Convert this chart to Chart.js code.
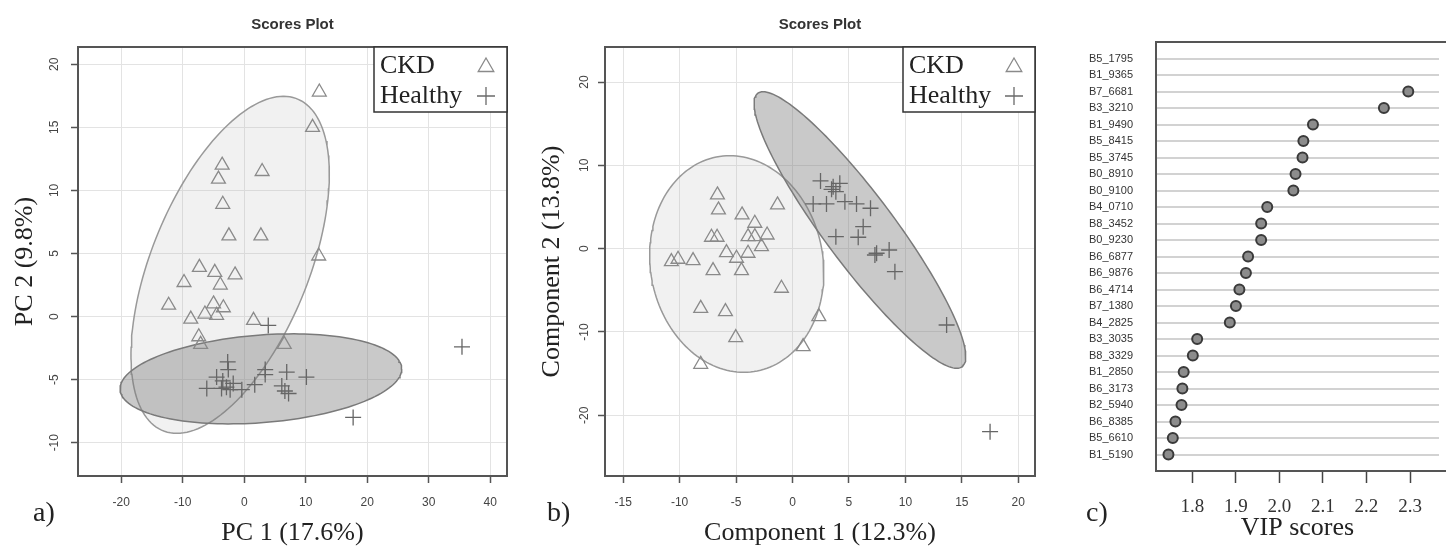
<!DOCTYPE html>
<html><head><meta charset="utf-8">
<script src="https://cdn.jsdelivr.net/npm/chart.js@4.4.1/dist/chart.umd.min.js"></script>
<style>
html,body{margin:0;padding:0;background:#fff;}
#wrap{position:relative;width:1446px;height:546px;overflow:hidden;background:#fff;}
canvas{position:absolute;top:0;}
.tag{position:absolute;font-family:"Liberation Serif","Times New Roman",serif;font-size:28px;color:#222;line-height:1;}
</style></head><body>
<div id="wrap">
<canvas id="ca" width="530" height="546" style="left:0px"></canvas>
<canvas id="cb" width="530" height="546" style="left:530px"></canvas>
<canvas id="cc" width="386" height="546" style="left:1060px"></canvas>
<div class="tag" style="left:33px;top:498px">a)</div>
<div class="tag" style="left:547px;top:498px">b)</div>
<div class="tag" style="left:1086px;top:498px">c)</div>
</div>
<script>
// ---------- data ----------
const groups = ['CKD', 'Healthy'];

// a) PCA scores
const pcaCkdX = [12.2, 11.1, -3.6, -4.2, 2.9, -3.5, -2.5, 2.7, 12.1, -7.3, -4.8, -1.5, -9.8, -3.9, -12.3, -5.0, -3.4, -8.7, -6.4, -4.5, 1.5, -7.4, -7.1, 6.5];
const pcaCkdY = [17.8, 15.0, 12.0, 10.9, 11.5, 8.9, 6.4, 6.4, 4.8, 3.9, 3.5, 3.3, 2.7, 2.5, 0.9, 1.0, 0.7, -0.2, 0.2, 0.1, -0.3, -1.6, -2.2, -2.2];
const pcaHealthyX = [3.9, 35.4, -2.7, -2.6, 3.4, 3.4, 6.9, 10.1, -4.5, -3.5, -1.8, -6.1, -3.7, -2.3, -0.4, 1.7, 6.1, 6.6, 7.2, 17.7, -2.9];
const pcaHealthyY = [-0.7, -2.4, -3.6, -4.2, -4.2, -4.6, -4.4, -4.8, -4.8, -5.1, -5.3, -5.7, -5.7, -5.8, -5.8, -5.4, -5.5, -5.9, -6.1, -8.0, -5.6];
// ellipse: [centerX, centerY, u.x, u.y, v.x, v.y] (conjugate semi-diameters)
const pcaCkdEllipse = [-2.3, 4.1, 8.67, 13.36, 13.6, 0];
const pcaHealthyEllipse = [2.7, -4.94, 22.9, 0.79, 0, 3.48];
const pcaXTicks = [-20, -10, 0, 10, 20, 30, 40];
const pcaYTicks = [-10, -5, 0, 5, 10, 15, 20];

// b) PLS-DA scores
const plsCkdX = [-6.65, -6.56, -1.33, -4.47, -3.34, -7.18, -6.68, -3.94, -3.34, -2.25, -2.75, -5.85, -3.94, -4.96, -10.73, -10.14, -8.81, -7.04, -4.52, -0.98, -8.13, -5.94, 2.33, -5.03, 0.94, -8.13];
const plsCkdY = [6.45, 4.65, 5.25, 4.05, 3.05, 1.37, 1.37, 1.44, 1.44, 1.64, 0.24, -0.48, -0.55, -1.15, -1.56, -1.27, -1.44, -2.64, -2.64, -4.75, -7.16, -7.56, -8.16, -10.68, -11.76, -13.88];
const plsHealthyX = [2.48, 3.6, 4.19, 3.84, 3.46, 1.83, 3.01, 4.64, 5.67, 6.91, 6.26, 5.82, 3.84, 7.45, 8.56, 7.3, 9.07, 13.65, 17.5];
const plsHealthyY = [8.13, 7.44, 7.85, 6.84, 7.13, 5.37, 5.37, 5.64, 5.37, 4.85, 2.64, 1.37, 1.44, -0.55, -0.16, -0.76, -2.76, -9.16, -21.97];
const plsCkdEllipse = [-4.94, -1.84, -0.62, 13.0, 7.69, 0];
const plsHealthyEllipse = [5.97, 2.24, -8.57, 16.6, 3.8, 0];
const plsXTicks = [-15, -10, -5, 0, 5, 10, 15, 20];
const plsYTicks = [-20, -10, 0, 10, 20];

// c) VIP scores
const vipFeatures = ['B5_1795','B1_9365','B7_6681','B3_3210','B1_9490','B5_8415','B5_3745','B0_8910','B0_9100','B4_0710','B8_3452','B0_9230','B6_6877','B6_9876','B6_4714','B7_1380','B4_2825','B3_3035','B8_3329','B1_2850','B6_3173','B2_5940','B6_8385','B5_6610','B1_5190'];
const vipScores = [2.55, 2.42, 2.296, 2.240, 2.077, 2.055, 2.053, 2.037, 2.032, 1.972, 1.958, 1.958, 1.928, 1.923, 1.908, 1.900, 1.886, 1.811, 1.801, 1.780, 1.777, 1.775, 1.761, 1.755, 1.745];
const vipTicks = [1.8, 1.9, 2.0, 2.1, 2.2, 2.3];

// ---------- helpers ----------
const SERIF = '"Liberation Serif", "Times New Roman", serif';
const SANS = '"Liberation Sans", Arial, sans-serif';
Chart.defaults.font.family = SANS;

const zip = (xs, ys) => xs.map((x, i) => ({x: x, y: ys[i]}));
function ellipsePath(p, n) {
  const pts = [];
  for (let i = 0; i <= n; i++) {
    const t = 2 * Math.PI * i / n;
    pts.push({x: p[0] + p[2] * Math.cos(t) + p[4] * Math.sin(t), y: p[1] + p[3] * Math.cos(t) + p[5] * Math.sin(t)});
  }
  return pts;
}
const fixedTicks = arr => scale => { scale.ticks = arr.map(v => ({value: v})); };

const framePlugin = {
  id: 'frame',
  afterDatasetsDraw(chart, args, o) {
    const {ctx, chartArea: a} = chart;
    ctx.save();
    ctx.strokeStyle = o.color || '#555';
    ctx.lineWidth = o.width || 2;
    ctx.beginPath();
    if (o.open) {
      ctx.moveTo(a.right + 10, a.top); ctx.lineTo(a.left, a.top);
      ctx.lineTo(a.left, a.bottom); ctx.lineTo(a.right + 10, a.bottom);
    } else {
      ctx.rect(a.left, a.top, a.right - a.left, a.bottom - a.top);
    }
    ctx.stroke();
    ctx.restore();
  }
};

const boxLegendPlugin = {
  id: 'boxLegend',
  afterDraw(chart, args, o) {
    if (!o || !o.width) return;
    const {ctx, chartArea: a} = chart;
    const x1 = a.right - o.width, y1 = a.top;
    ctx.save();
    ctx.fillStyle = '#fff';
    ctx.fillRect(x1, y1, o.width, o.height);
    ctx.strokeStyle = '#333';
    ctx.lineWidth = 1.5;
    ctx.strokeRect(x1, y1, o.width, o.height);
    ctx.font = '26px ' + SERIF;
    ctx.fillStyle = '#222';
    ctx.textBaseline = 'alphabetic';
    ctx.textAlign = 'left';
    const rows = [y1 + 26, y1 + 56];
    groups.forEach((g, i) => {
      ctx.fillText(g, x1 + 6, rows[i]);
      const cx = a.right - 21, cy = y1 + 20 + i * 29;
      ctx.beginPath();
      if (i === 0) {
        const r = 9;
        ctx.moveTo(cx, cy - r);
        ctx.lineTo(cx + r * 0.866, cy + r * 0.5);
        ctx.lineTo(cx - r * 0.866, cy + r * 0.5);
        ctx.closePath();
        ctx.strokeStyle = '#8a8a8a';
      } else {
        const r = 9;
        ctx.moveTo(cx - r, cy); ctx.lineTo(cx + r, cy);
        ctx.moveTo(cx, cy - r); ctx.lineTo(cx, cy + r);
        ctx.strokeStyle = '#6a6a6a';
      }
      ctx.lineWidth = 1.3;
      ctx.stroke();
    });
    ctx.restore();
  }
};

function scoresChart(id, cfg) {
  const tickFont = {family: SANS, size: 12};
  return new Chart(document.getElementById(id), {
    type: 'scatter',
    data: {
      datasets: [
        {label: groups[0], data: zip(cfg.ckdX, cfg.ckdY), pointStyle: 'triangle', pointRadius: 8,
         borderColor: '#8a8a8a', backgroundColor: 'rgba(0,0,0,0)', borderWidth: 1.3, order: 1},
        {label: groups[1], data: zip(cfg.hX, cfg.hY), pointStyle: 'cross', pointRadius: 8,
         borderColor: '#666', backgroundColor: '#666', borderWidth: 1.3, order: 0},
        {label: groups[0] + ' region', data: ellipsePath(cfg.ckdEll, 160), showLine: true, pointRadius: 0,
         borderColor: '#999', borderWidth: 1.5, backgroundColor: 'rgba(180,180,180,0.18)', fill: 'shape', tension: 0, order: 4},
        {label: groups[1] + ' region', data: ellipsePath(cfg.hEll, 160), showLine: true, pointRadius: 0,
         borderColor: '#7a7a7a', borderWidth: 1.5, backgroundColor: 'rgba(120,120,120,0.40)', fill: 'shape', tension: 0, order: 3}
      ]
    },
    options: {
      responsive: false, animation: false, devicePixelRatio: 1, events: [],
      layout: {padding: {left: 0, right: cfg.padRight, top: 0, bottom: 0}},
      plugins: {
        legend: {display: false}, tooltip: {enabled: false},
        title: {display: true, text: 'Scores Plot', fullSize: false, color: '#333',
                font: {family: SANS, size: 15, weight: 'bold', lineHeight: 1.2}, padding: {top: 16, bottom: 13}},
        frame: {color: '#555', width: 2},
        boxLegend: {width: cfg.legW, height: 65}
      },
      scales: {
        x: {type: 'linear', min: cfg.xMin, max: cfg.xMax, afterBuildTicks: fixedTicks(cfg.xTicks),
            afterFit: s => { s.height = 70; },
            border: {display: false},
            grid: {color: '#e3e3e3', lineWidth: 1, tickColor: '#555', tickLength: 7, tickWidth: 1.5},
            ticks: {font: tickFont, color: '#444', padding: 12, maxRotation: 0, autoSkip: false},
            title: {display: true, text: cfg.xTitle, color: '#222', font: {family: SERIF, size: 26, lineHeight: 1}, padding: {top: 0, bottom: 0}}},
        y: {type: 'linear', min: cfg.yMin, max: cfg.yMax, afterBuildTicks: fixedTicks(cfg.yTicks),
            afterFit: s => { s.width = cfg.yW; },
            border: {display: false},
            grid: {color: '#e3e3e3', lineWidth: 1, tickColor: '#555', tickLength: 7, tickWidth: 1.5},
            ticks: {font: tickFont, color: '#444', padding: cfg.yPad, minRotation: 90, maxRotation: 90, crossAlign: 'center', autoSkip: false},
            title: {display: true, text: cfg.yTitle, color: '#222', font: {family: SERIF, size: 26, lineHeight: 1}, padding: {top: cfg.yTitlePad, bottom: 0}}}
      }
    },
    plugins: [framePlugin, boxLegendPlugin]
  });
}

scoresChart('ca', {
  ckdX: pcaCkdX, ckdY: pcaCkdY, hX: pcaHealthyX, hY: pcaHealthyY,
  ckdEll: pcaCkdEllipse, hEll: pcaHealthyEllipse,
  xMin: -27.04, xMax: 42.72, yMin: -12.64, yMax: 21.37, xTicks: pcaXTicks, yTicks: pcaYTicks,
  xTitle: 'PC 1 (17.6%)', yTitle: 'PC 2 (9.8%)', padRight: 23, yW: 78, yPad: 8, yTitlePad: 12, legW: 133
});

scoresChart('cb', {
  ckdX: plsCkdX, ckdY: plsCkdY, hX: plsHealthyX, hY: plsHealthyY,
  ckdEll: plsCkdEllipse, hEll: plsHealthyEllipse,
  xMin: -16.61, xMax: 21.48, yMin: -27.29, yMax: 24.21, xTicks: plsXTicks, yTicks: plsYTicks,
  xTitle: 'Component 1 (12.3%)', yTitle: 'Component 2 (13.8%)', padRight: 25, yW: 75, yPad: 5, yTitlePad: 9, legW: 132
});

new Chart(document.getElementById('cc'), {
  type: 'scatter',
  data: {
    datasets: [{label: 'VIP scores', data: vipScores.map((v, i) => ({x: v, y: i})),
      pointStyle: 'circle', pointRadius: 5, backgroundColor: '#8c8c8c', borderColor: '#3a3a3a', borderWidth: 2}]
  },
  options: {
    responsive: false, animation: false, devicePixelRatio: 1, events: [],
    layout: {padding: {left: 0, right: 0, top: 42, bottom: 0}},
    plugins: {legend: {display: false}, tooltip: {enabled: false}, frame: {color: '#555', width: 2, open: true}},
    scales: {
      x: {type: 'linear', min: 1.7164, max: 2.3666, afterBuildTicks: fixedTicks(vipTicks),
          afterFit: s => { s.height = 75; },
          border: {display: false},
          grid: {drawOnChartArea: false, tickColor: '#444', tickLength: 12, tickWidth: 1.5},
          ticks: {font: {family: SERIF, size: 19}, color: '#333', padding: 13, maxRotation: 0, autoSkip: false,
                  callback: v => v.toFixed(1)},
          title: {display: true, text: 'VIP scores', color: '#222', font: {family: SERIF, size: 26, lineHeight: 1}, padding: {top: 0, bottom: 5}}},
      y: {type: 'linear', reverse: true, min: -1, max: vipFeatures.length, afterBuildTicks: fixedTicks(vipFeatures.map((f, i) => i)),
          afterFit: s => { s.width = 96; },
          border: {display: false},
          grid: {color: '#d2d2d2', lineWidth: 2, drawTicks: false},
          ticks: {font: {family: SANS, size: 11}, color: '#333', padding: 23, autoSkip: false,
                  callback: v => vipFeatures[v]}}
    }
  },
  plugins: [framePlugin]
});
</script>
</body></html>
